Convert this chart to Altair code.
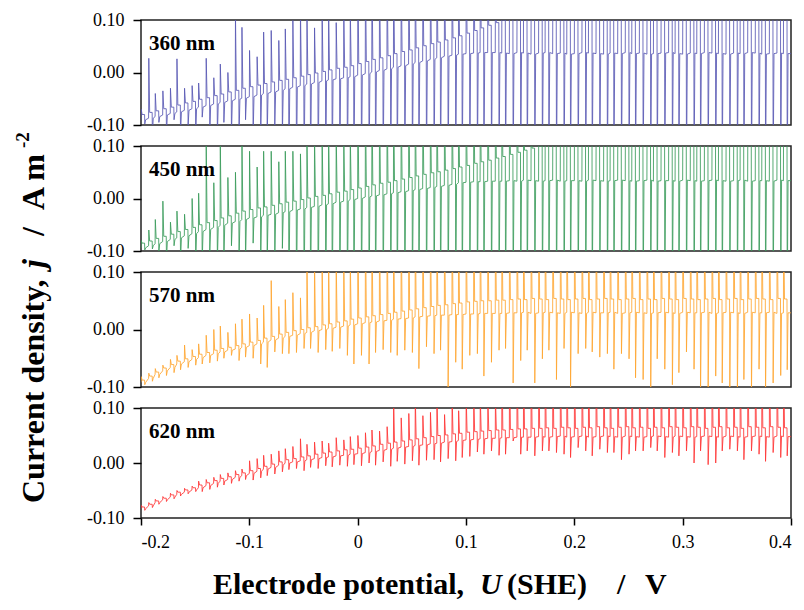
import altair as alt
import pandas as pd

# ---------------- data ----------------
# potential at the start of each light-chopping cycle (V vs SHE)
cycle_u = [
    -0.200, -0.193, -0.187, -0.180, -0.173, -0.167, -0.160, -0.153, -0.147, -0.140,
    -0.133, -0.127, -0.120, -0.113, -0.107, -0.100, -0.093, -0.087, -0.080, -0.073,
    -0.067, -0.060, -0.053, -0.047, -0.040, -0.033, -0.027, -0.020, -0.013, -0.007,
    0.000, 0.007, 0.013, 0.020, 0.027, 0.033, 0.040, 0.047, 0.053, 0.060,
    0.067, 0.073, 0.080, 0.087, 0.093, 0.100, 0.107, 0.113, 0.120, 0.127,
    0.133, 0.140, 0.147, 0.153, 0.160, 0.167, 0.173, 0.180, 0.187, 0.193,
    0.200, 0.207, 0.213, 0.220, 0.227, 0.233, 0.240, 0.247, 0.253, 0.260,
    0.267, 0.273, 0.280, 0.287, 0.293, 0.300, 0.307, 0.313, 0.320, 0.327,
    0.333, 0.340, 0.347, 0.353, 0.360, 0.367, 0.373, 0.380, 0.387, 0.393,
]
end_u = 0.400

# 360 nm: dark level, light level, light-on spike, light-off spike (A m-2)
dark_360 = [
    -0.090, -0.087, -0.084, -0.081, -0.078, -0.075, -0.072, -0.069, -0.066, -0.063,
    -0.060, -0.057, -0.054, -0.051, -0.049, -0.046, -0.043, -0.040, -0.037, -0.034,
    -0.031, -0.028, -0.025, -0.022, -0.019, -0.016, -0.014, -0.012, -0.010, -0.008,
    -0.005, -0.002, 0.001, 0.004, 0.007, 0.010, 0.013, 0.016, 0.019, 0.022,
    0.025, 0.028, 0.031, 0.033, 0.035, 0.036, 0.037, 0.038, 0.038, 0.038,
    0.037, 0.036, 0.038, 0.037, 0.035, 0.037, 0.038, 0.036, 0.037, 0.035,
    0.036, 0.038, 0.037, 0.036, 0.035, 0.037, 0.036, 0.038, 0.036, 0.037,
    0.035, 0.036, 0.037, 0.038, 0.036, 0.035, 0.037, 0.036, 0.038, 0.037,
    0.036, 0.035, 0.037, 0.036, 0.038, 0.037, 0.035, 0.036, 0.037, 0.036,
]
light_360 = [
    -0.080, -0.076, -0.073, -0.069, -0.066, -0.062, -0.058, -0.055, -0.051, -0.048,
    -0.044, -0.041, -0.037, -0.034, -0.030, -0.027, -0.024, -0.021, -0.018, -0.015,
    -0.013, -0.010, -0.007, -0.004, -0.001, 0.002, 0.005, 0.008, 0.010, 0.013,
    0.017, 0.021, 0.025, 0.028, 0.032, 0.036, 0.040, 0.043, 0.047, 0.051,
    0.055, 0.058, 0.062, 0.066, 0.070, 0.075, 0.080, 0.085, 0.090, 0.095,
    0.100, 0.105, 0.110, 0.115, 0.120, 0.125, 0.130, 0.135, 0.140, 0.145,
    0.150, 0.150, 0.150, 0.150, 0.150, 0.150, 0.150, 0.150, 0.150, 0.150,
    0.150, 0.150, 0.150, 0.150, 0.150, 0.150, 0.150, 0.150, 0.150, 0.150,
    0.150, 0.150, 0.150, 0.150, 0.150, 0.150, 0.150, 0.150, 0.150, 0.150,
]
on_360 = [
    -0.070, 0.027, -0.040, -0.035, -0.030, 0.026, -0.030, -0.025, -0.020, 0.027,
    -0.010, 0.016, 0.000, 0.110, 0.086, 0.042, 0.030, 0.077, 0.080, 0.061,
    0.083, 0.099, 0.120, 0.120, 0.085, 0.120, 0.120, 0.095, 0.120, 0.120,
    0.200, 0.200, 0.200, 0.200, 0.200, 0.200, 0.200, 0.200, 0.200, 0.200,
    0.200, 0.200, 0.200, 0.200, 0.200, 0.200, 0.200, 0.200, 0.200, 0.200,
    0.200, 0.200, 0.200, 0.200, 0.200, 0.200, 0.200, 0.200, 0.200, 0.200,
    0.200, 0.200, 0.200, 0.200, 0.200, 0.200, 0.200, 0.200, 0.200, 0.200,
    0.200, 0.200, 0.200, 0.200, 0.200, 0.200, 0.200, 0.200, 0.200, 0.200,
    0.200, 0.200, 0.200, 0.200, 0.200, 0.200, 0.200, 0.200, 0.200, 0.200,
]
off_360 = [
    -0.098, -0.120, -0.095, -0.120, -0.090, -0.120, -0.100, -0.120, -0.085, -0.120,
    -0.120, -0.095, -0.120, -0.120, -0.090, -0.120, -0.120, -0.120, -0.100, -0.120,
    -0.200, -0.200, -0.200, -0.200, -0.200, -0.200, -0.200, -0.200, -0.200, -0.200,
    -0.200, -0.200, -0.200, -0.200, -0.200, -0.200, -0.200, -0.200, -0.200, -0.200,
    -0.200, -0.200, -0.200, -0.200, -0.200, -0.200, -0.200, -0.200, -0.200, -0.200,
    -0.200, -0.200, -0.200, -0.200, -0.200, -0.200, -0.200, -0.200, -0.200, -0.200,
    -0.200, -0.200, -0.200, -0.200, -0.200, -0.200, -0.200, -0.200, -0.200, -0.200,
    -0.200, -0.200, -0.200, -0.200, -0.200, -0.200, -0.200, -0.200, -0.200, -0.200,
    -0.200, -0.200, -0.200, -0.200, -0.200, -0.200, -0.200, -0.200, -0.200, -0.200,
]

# 450 nm
dark_450 = [
    -0.094, -0.090, -0.086, -0.082, -0.078, -0.075, -0.071, -0.067, -0.063, -0.059,
    -0.055, -0.051, -0.047, -0.044, -0.040, -0.037, -0.035, -0.032, -0.030, -0.027,
    -0.025, -0.022, -0.020, -0.017, -0.015, -0.012, -0.010, -0.007, -0.005, -0.002,
    0.000, 0.003, 0.005, 0.007, 0.009, 0.011, 0.013, 0.015, 0.017, 0.019,
    0.021, 0.023, 0.025, 0.027, 0.030, 0.031, 0.032, 0.032, 0.033, 0.033,
    0.033, 0.034, 0.033, 0.035, 0.034, 0.033, 0.034, 0.035, 0.033, 0.034,
    0.034, 0.033, 0.035, 0.034, 0.033, 0.034, 0.035, 0.034, 0.033, 0.034,
    0.035, 0.033, 0.034, 0.034, 0.033, 0.035, 0.034, 0.033, 0.034, 0.035,
    0.034, 0.033, 0.034, 0.035, 0.033, 0.034, 0.034, 0.033, 0.035, 0.034,
]
light_450 = [
    -0.085, -0.081, -0.076, -0.072, -0.068, -0.063, -0.059, -0.055, -0.050, -0.046,
    -0.042, -0.037, -0.033, -0.028, -0.024, -0.021, -0.018, -0.016, -0.013, -0.010,
    -0.007, -0.005, -0.002, 0.001, 0.004, 0.006, 0.009, 0.012, 0.014, 0.017,
    0.020, 0.023, 0.026, 0.029, 0.031, 0.034, 0.037, 0.040, 0.043, 0.046,
    0.049, 0.051, 0.054, 0.057, 0.060, 0.063, 0.067, 0.070, 0.073, 0.077,
    0.080, 0.084, 0.088, 0.092, 0.096, 0.100, 0.104, 0.108, 0.112, 0.116,
    0.150, 0.150, 0.150, 0.150, 0.150, 0.150, 0.150, 0.150, 0.150, 0.150,
    0.150, 0.150, 0.150, 0.150, 0.150, 0.150, 0.150, 0.150, 0.150, 0.150,
    0.150, 0.150, 0.150, 0.150, 0.150, 0.150, 0.150, 0.150, 0.150, 0.150,
]
on_450 = [
    -0.080, -0.060, -0.040, -0.005, -0.045, -0.024, -0.030, 0.000, 0.010, 0.110,
    0.030, 0.110, 0.040, 0.050, 0.110, 0.090, 0.060, 0.090, 0.090, 0.070,
    0.090, 0.090, 0.085, 0.110, 0.120, 0.120, 0.120, 0.120, 0.120, 0.120,
    0.200, 0.200, 0.200, 0.200, 0.200, 0.200, 0.200, 0.200, 0.200, 0.200,
    0.200, 0.200, 0.200, 0.200, 0.200, 0.200, 0.200, 0.200, 0.200, 0.200,
    0.200, 0.200, 0.200, 0.200, 0.200, 0.200, 0.200, 0.200, 0.200, 0.200,
    0.200, 0.200, 0.200, 0.200, 0.200, 0.200, 0.200, 0.200, 0.200, 0.200,
    0.200, 0.200, 0.200, 0.200, 0.200, 0.200, 0.200, 0.200, 0.200, 0.200,
    0.200, 0.200, 0.200, 0.200, 0.200, 0.200, 0.200, 0.200, 0.200, 0.200,
]
off_450 = [
    -0.098, -0.096, -0.100, -0.120, -0.090, -0.120, -0.095, -0.120, -0.120, -0.100,
    -0.120, -0.120, -0.090, -0.120, -0.120, -0.085, -0.120, -0.120, -0.120, -0.095,
    -0.200, -0.200, -0.200, -0.200, -0.200, -0.200, -0.200, -0.200, -0.200, -0.200,
    -0.200, -0.200, -0.200, -0.200, -0.200, -0.200, -0.200, -0.200, -0.200, -0.200,
    -0.200, -0.200, -0.200, -0.200, -0.200, -0.200, -0.200, -0.200, -0.200, -0.200,
    -0.200, -0.200, -0.200, -0.200, -0.200, -0.200, -0.200, -0.200, -0.200, -0.200,
    -0.200, -0.200, -0.200, -0.200, -0.200, -0.200, -0.200, -0.200, -0.200, -0.200,
    -0.200, -0.200, -0.200, -0.200, -0.200, -0.200, -0.200, -0.200, -0.200, -0.200,
    -0.200, -0.200, -0.200, -0.200, -0.200, -0.200, -0.200, -0.200, -0.200, -0.200,
]

# 570 nm
dark_570 = [
    -0.092, -0.085, -0.078, -0.072, -0.066, -0.060, -0.056, -0.052, -0.049, -0.045,
    -0.042, -0.039, -0.036, -0.034, -0.031, -0.028, -0.025, -0.022, -0.018, -0.015,
    -0.012, -0.010, -0.007, -0.005, -0.002, 0.000, 0.002, 0.004, 0.006, 0.008,
    0.010, 0.012, 0.013, 0.015, 0.016, 0.018, 0.019, 0.020, 0.022, 0.023,
    0.024, 0.025, 0.025, 0.026, 0.026, 0.027, 0.027, 0.028, 0.028, 0.028,
    0.028, 0.029, 0.029, 0.030, 0.028, 0.029, 0.030, 0.029, 0.028, 0.030,
    0.029, 0.028, 0.030, 0.029, 0.029, 0.030, 0.028, 0.029, 0.030, 0.029,
    0.028, 0.029, 0.030, 0.029, 0.028, 0.030, 0.029, 0.029, 0.030, 0.028,
    0.029, 0.030, 0.029, 0.028, 0.030, 0.029, 0.029, 0.030, 0.028, 0.029,
]
light_570 = [
    -0.088, -0.081, -0.074, -0.067, -0.061, -0.055, -0.051, -0.047, -0.043, -0.040,
    -0.036, -0.033, -0.031, -0.028, -0.025, -0.022, -0.019, -0.015, -0.012, -0.008,
    -0.005, -0.002, 0.000, 0.003, 0.005, 0.008, 0.010, 0.013, 0.015, 0.018,
    0.020, 0.022, 0.024, 0.026, 0.028, 0.030, 0.032, 0.034, 0.036, 0.038,
    0.040, 0.042, 0.043, 0.045, 0.046, 0.048, 0.049, 0.050, 0.050, 0.051,
    0.051, 0.052, 0.053, 0.052, 0.054, 0.053, 0.052, 0.054, 0.053, 0.052,
    0.053, 0.054, 0.052, 0.053, 0.054, 0.053, 0.052, 0.053, 0.054, 0.052,
    0.053, 0.052, 0.054, 0.053, 0.052, 0.054, 0.053, 0.052, 0.053, 0.054,
    0.052, 0.053, 0.054, 0.052, 0.053, 0.054, 0.053, 0.052, 0.054, 0.053,
]
on_570 = [
    -0.082, -0.076, -0.068, -0.062, -0.052, -0.045, -0.027, -0.035, -0.025, -0.010,
    0.000, 0.006, -0.005, 0.010, 0.018, 0.027, 0.020, 0.042, 0.085, 0.040,
    0.052, 0.064, 0.055, 0.120, 0.120, 0.120, 0.120, 0.120, 0.120, 0.120,
    0.200, 0.200, 0.200, 0.200, 0.200, 0.200, 0.200, 0.200, 0.200, 0.200,
    0.200, 0.200, 0.200, 0.200, 0.200, 0.200, 0.200, 0.200, 0.200, 0.200,
    0.200, 0.200, 0.200, 0.200, 0.200, 0.200, 0.200, 0.200, 0.200, 0.200,
    0.200, 0.200, 0.200, 0.200, 0.200, 0.200, 0.200, 0.200, 0.200, 0.200,
    0.200, 0.200, 0.200, 0.200, 0.200, 0.200, 0.200, 0.200, 0.200, 0.200,
    0.200, 0.200, 0.200, 0.200, 0.200, 0.200, 0.200, 0.200, 0.200, 0.200,
]
off_570 = [
    -0.096, -0.090, -0.084, -0.080, -0.075, -0.070, -0.066, -0.062, -0.060, -0.058,
    -0.055, -0.050, -0.045, -0.054, -0.048, -0.050, -0.060, -0.066, -0.039, -0.042,
    -0.042, -0.040, -0.033, -0.033, -0.040, -0.035, -0.038, -0.033, -0.045, -0.060,
    -0.045, -0.060, -0.040, -0.035, -0.040, -0.045, -0.036, -0.040, -0.068, -0.030,
    -0.042, -0.036, -0.102, -0.057, -0.069, -0.045, -0.042, -0.081, -0.057, -0.036,
    -0.033, -0.093, -0.054, -0.036, -0.093, -0.051, -0.036, -0.087, -0.033, -0.105,
    -0.042, -0.033, -0.039, -0.048, -0.042, -0.069, -0.042, -0.051, -0.084, -0.087,
    -0.112, -0.051, -0.069, -0.096, -0.075, -0.039, -0.069, -0.112, -0.112, -0.081,
    -0.093, -0.112, -0.112, -0.087, -0.112, -0.069, -0.112, -0.093, -0.080, -0.070,
]

# 620 nm
dark_620 = [
    -0.083, -0.078, -0.072, -0.067, -0.062, -0.057, -0.053, -0.049, -0.045, -0.041,
    -0.037, -0.033, -0.030, -0.026, -0.023, -0.019, -0.015, -0.011, -0.008, -0.004,
    0.000, 0.002, 0.004, 0.006, 0.008, 0.010, 0.011, 0.013, 0.014, 0.016,
    0.017, 0.019, 0.021, 0.023, 0.025, 0.027, 0.029, 0.030, 0.032, 0.033,
    0.035, 0.036, 0.038, 0.039, 0.041, 0.042, 0.043, 0.044, 0.045, 0.045,
    0.046, 0.046, 0.047, 0.047, 0.047, 0.048, 0.047, 0.048, 0.049, 0.047,
    0.048, 0.049, 0.047, 0.048, 0.049, 0.048, 0.047, 0.049, 0.048, 0.047,
    0.048, 0.049, 0.048, 0.047, 0.049, 0.048, 0.047, 0.048, 0.049, 0.048,
    0.047, 0.049, 0.048, 0.047, 0.048, 0.049, 0.048, 0.047, 0.049, 0.048,
]
light_620 = [
    -0.080, -0.075, -0.069, -0.064, -0.058, -0.053, -0.049, -0.045, -0.040, -0.036,
    -0.032, -0.028, -0.025, -0.021, -0.018, -0.014, -0.010, -0.006, -0.002, 0.002,
    0.006, 0.008, 0.011, 0.013, 0.016, 0.018, 0.020, 0.022, 0.024, 0.025,
    0.027, 0.029, 0.031, 0.034, 0.036, 0.038, 0.040, 0.042, 0.044, 0.046,
    0.048, 0.050, 0.051, 0.053, 0.054, 0.056, 0.057, 0.058, 0.059, 0.060,
    0.060, 0.061, 0.062, 0.062, 0.063, 0.063, 0.064, 0.063, 0.065, 0.064,
    0.063, 0.065, 0.064, 0.066, 0.064, 0.063, 0.065, 0.066, 0.064, 0.065,
    0.063, 0.065, 0.064, 0.066, 0.065, 0.064, 0.066, 0.065, 0.063, 0.065,
    0.066, 0.064, 0.065, 0.063, 0.066, 0.065, 0.064, 0.066, 0.065, 0.064,
]
on_620 = [
    -0.077, -0.072, -0.066, -0.061, -0.055, -0.050, -0.046, -0.042, -0.033, -0.030,
    -0.026, -0.021, -0.018, -0.014, -0.011, 0.004, 0.008, 0.014, 0.016, 0.022,
    0.026, 0.030, 0.044, 0.034, 0.038, 0.040, 0.036, 0.046, 0.042, 0.048,
    0.050, 0.055, 0.060, 0.058, 0.066, 0.120, 0.082, 0.090, 0.120, 0.086,
    0.092, 0.120, 0.088, 0.120, 0.095, 0.120, 0.120, 0.120, 0.120, 0.120,
    0.200, 0.200, 0.200, 0.200, 0.200, 0.200, 0.200, 0.200, 0.200, 0.200,
    0.200, 0.200, 0.200, 0.200, 0.200, 0.200, 0.200, 0.200, 0.200, 0.200,
    0.200, 0.200, 0.200, 0.200, 0.200, 0.200, 0.200, 0.200, 0.200, 0.200,
    0.200, 0.200, 0.200, 0.200, 0.200, 0.200, 0.200, 0.200, 0.200, 0.200,
]
off_620 = [
    -0.086, -0.081, -0.075, -0.070, -0.065, -0.060, -0.056, -0.052, -0.052, -0.048,
    -0.044, -0.040, -0.037, -0.033, -0.030, -0.031, -0.027, -0.023, -0.020, -0.016,
    -0.012, -0.010, -0.014, -0.008, -0.010, -0.005, -0.007, -0.004, -0.006, -0.003,
    -0.005, 0.000, -0.004, 0.002, -0.006, 0.003, -0.002, 0.004, -0.004, 0.005,
    0.006, 0.002, 0.008, 0.004, 0.010, 0.012, 0.020, 0.016, 0.022, 0.014,
    0.016, 0.040, 0.016, 0.022, 0.013, 0.022, 0.022, 0.019, 0.016, 0.010,
    0.028, 0.022, 0.013, 0.025, 0.019, 0.019, 0.006, 0.016, 0.022, 0.022,
    0.028, 0.022, 0.010, 0.019, 0.013, 0.022, 0.000, 0.022, -0.003, 0.000,
    0.022, 0.025, 0.022, 0.006, 0.022, 0.016, 0.003, 0.019, 0.010, 0.013,
]

wavelength_labels = ["360 nm", "450 nm", "570 nm", "620 nm"]
x_ticks = [-0.2, -0.1, 0.0, 0.1, 0.2, 0.3, 0.4]
y_ticks = [-0.1, 0.0, 0.1]

# ---------------- styling ----------------
FONT = "Liberation Serif"
COLORS = ["#5858b4", "#3a9b5b", "#ffa630", "#ff3434"]
HEIGHTS = [105, 105, 115, 110]
WIDTH = 650
HALF = 0.0033   # light-off instant within a cycle
RISE = 0.0002   # spike tip offset
DECAY = 0.0010  # return offset


def trace(dark, light, on, off):
    rows = []
    for i, u0 in enumerate(cycle_u):
        seq = [
            (u0, dark[i]),
            (u0 + RISE, on[i]),
            (u0 + DECAY, light[i]),
            (u0 + HALF, light[i]),
            (u0 + HALF + RISE, off[i]),
            (u0 + HALF + DECAY, dark[i]),
        ]
        for u, j in seq:
            rows.append({"u": u, "j": j, "k": len(rows)})
    rows.append({"u": end_u, "j": dark[-1], "k": len(rows)})
    return pd.DataFrame(rows)


one = pd.DataFrame({"n": [0]})

y_label_expr = "datum.value < 0 ? '-' + format(-datum.value, '.2f') : format(datum.value, '.2f')"
x_label_expr = ("datum.value == 0 ? '0' : (datum.value < 0 ? '-' + format(-datum.value, '.1f')"
                " : format(datum.value, '.1f'))")


def panel(df, color, label, height, bottom, extra=None):
    if bottom:
        xaxis = alt.Axis(values=x_ticks, labelExpr=x_label_expr, title=None, grid=False,
                         domain=False, ticks=True, tickSize=7, tickWidth=1.5, tickColor="black",
                         labelFont=FONT, labelFontSize=18, labelColor="black", labelPadding=8)
    else:
        xaxis = None
    base = alt.Chart(df).mark_line(clip=True, strokeWidth=1, color=color, opacity=0.85).encode(
        x=alt.X("u:Q", scale=alt.Scale(domain=[-0.2, 0.4], nice=False, zero=False), axis=xaxis),
        y=alt.Y("j:Q", scale=alt.Scale(domain=[-0.1, 0.1], nice=False, zero=False),
                axis=alt.Axis(values=y_ticks, labelExpr=y_label_expr, title=None, grid=False,
                              domain=False, tickSize=8, tickWidth=1.5, tickColor="black",
                              labelFont=FONT, labelFontSize=18, labelColor="black",
                              labelPadding=9)),
        order="k:Q",
    )
    txt = alt.Chart(one).mark_text(text=label, align="left", baseline="middle", font=FONT,
                                   fontSize=21, fontWeight="bold", color="black").encode(
        x=alt.value(8), y=alt.value(24))
    layers = [base, txt]
    if extra:
        layers += extra
    return alt.layer(*layers).properties(width=WIDTH, height=height)


def text_piece(s, x, y, size=30, italic=False, angle=0, align="left"):
    kw = dict(text=s, align=align, baseline="middle", font=FONT, fontSize=size,
              fontWeight="bold", color="black")
    if italic:
        kw["fontStyle"] = "italic"
    if angle:
        kw["angle"] = angle
    return alt.Chart(one).mark_text(**kw).encode(x=alt.value(x), y=alt.value(y))


# y-axis title, positioned relative to the first panel's plot origin
ytitle = [
    text_piece("Current density,", -107, 483, size=32, angle=270),
    text_piece("j", -107, 248, size=32, italic=True, angle=270),
    text_piece("/", -107, 216, size=32, angle=270),
    text_piece("A m", -107, 190, size=32, angle=270),
    text_piece("-2", -118, 128, size=19, angle=270),
]
# x-axis title, relative to the last panel's plot origin
xtitle = [
    text_piece("Electrode potential,", 72, 177),
    text_piece("U", 339, 177, italic=True),
    text_piece("(SHE)", 366, 177),
    text_piece("/", 476, 177),
    text_piece("V", 504, 177),
]

traces = [
    trace(dark_360, light_360, on_360, off_360),
    trace(dark_450, light_450, on_450, off_450),
    trace(dark_570, light_570, on_570, off_570),
    trace(dark_620, light_620, on_620, off_620),
]

p1 = panel(traces[0], COLORS[0], wavelength_labels[0], HEIGHTS[0], False, ytitle)
p2 = panel(traces[1], COLORS[1], wavelength_labels[1], HEIGHTS[1], False)
p3 = panel(traces[2], COLORS[2], wavelength_labels[2], HEIGHTS[2], False)
p4 = panel(traces[3], COLORS[3], wavelength_labels[3], HEIGHTS[3], True, xtitle)

chart = alt.vconcat(p1, p2, p3, p4, spacing=21, bounds="flush").properties(
    padding={"left": 13, "top": 10, "right": 5, "bottom": 5},
    background="white",
).configure_view(stroke="#222222", strokeWidth=1.5)

chart.save("out.html", embed_options={"renderer": "svg", "actions": False})
